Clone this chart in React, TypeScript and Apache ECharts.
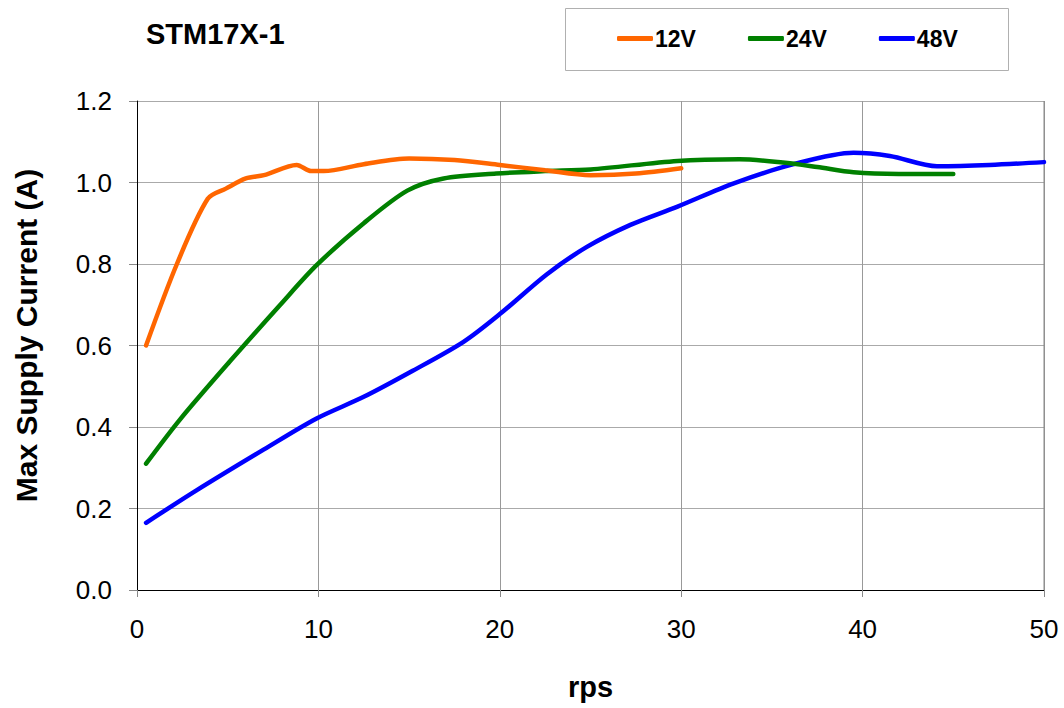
import React, { useEffect, useRef } from "react";
import * as echarts from "echarts";

const rps12 = [0.5, 2.2, 3.9, 4.9, 6, 7, 8.8, 9.6, 10.3, 12.5, 15, 17.5, 20, 22.5, 25, 27.5, 30];
const cur12 = [0.6, 0.8, 0.96, 0.985, 1.01, 1.018, 1.043, 1.028, 1.028, 1.045, 1.059, 1.055, 1.043, 1.03, 1.018, 1.022, 1.035];

const rps24 = [0.5, 2.4, 5.1, 7.9, 9.9, 12.5, 14.9, 16.9, 19.8, 22.5, 25, 29.8, 33.2, 35.6, 37.5, 39.5, 42, 45];
const cur24 = [0.31, 0.42, 0.56, 0.7, 0.797, 0.9, 0.98, 1.01, 1.022, 1.028, 1.032, 1.053, 1.057, 1.049, 1.038, 1.025, 1.021, 1.021];

const rps48 = [0.5, 3.3, 7, 9.9, 12.5, 15.2, 18, 20, 22.6, 24.8, 27.2, 29.8, 32.9, 36.2, 39.5, 41.5, 44.1, 47, 50];
const cur48 = [0.165, 0.245, 0.345, 0.421, 0.474, 0.538, 0.609, 0.677, 0.775, 0.842, 0.896, 0.941, 0.998, 1.045, 1.073, 1.065, 1.04, 1.043, 1.05];

const seriesNames = ["12V", "24V", "48V"];
const seriesColors = ["#FF6600", "#008000", "#0000FF"];
const xTicks = { min: 0, max: 50, interval: 10 };
const yTicks = { min: 0, max: 1.2, interval: 0.2 };

const FONT = "'Liberation Sans', Arial, sans-serif";

export default function App() {
  const ref = useRef<HTMLDivElement>(null);
  useEffect(() => {
    document.body.style.margin = "0";
    const chart = echarts.init(ref.current!, null, { renderer: "svg" });
    const pairs = [
      rps12.map((x, i) => [x, cur12[i]]),
      rps24.map((x, i) => [x, cur24[i]]),
      rps48.map((x, i) => [x, cur48[i]]),
    ];
    chart.setOption({
      animation: false,
      backgroundColor: "#ffffff",
      textStyle: { fontFamily: FONT },
      grid: { left: 137, right: 20, top: 101, bottom: 118, containLabel: false },
      title: {
        text: "STM17X-1",
        left: 146,
        top: 19,
        padding: 0,
        textStyle: { fontFamily: FONT, fontSize: 29, fontWeight: "bold", color: "#000" },
      },
      graphic: [
        {
          type: "rect",
          shape: { x: 565.5, y: 8.5, width: 443, height: 62 },
          style: { fill: "#fff", stroke: "#b0b0b0", lineWidth: 1 },
          z: 0,
        },
        {
          type: "line",
          shape: { x1: 1044, y1: 101, x2: 1044, y2: 590 },
          style: { stroke: "#888", lineWidth: 1 },
          z: 1,
        },
      ],
      legend: {
        left: 617,
        top: 27,
        padding: 0,
        itemWidth: 36,
        itemHeight: 5,
        itemGap: 52,
        icon: "roundRect",
        data: seriesNames,
        textStyle: { fontFamily: FONT, fontSize: 23, fontWeight: "bold", color: "#000", padding: [0, 0, 0, -3] },
        z: 5,
      },
      xAxis: {
        type: "value",
        min: xTicks.min,
        max: xTicks.max,
        interval: xTicks.interval,
        name: "rps",
        nameLocation: "middle",
        nameGap: 82,
        nameTextStyle: { fontFamily: FONT, fontSize: 29, fontWeight: "bold", color: "#000" },
        axisLine: { show: true, onZero: false, lineStyle: { color: "#000", width: 1 } },
        axisTick: { show: true, inside: false, length: 7, lineStyle: { color: "#888" } },
        axisLabel: { fontFamily: FONT, fontSize: 26, color: "#000", margin: 26 },
        splitLine: { show: true, lineStyle: { color: "#999", width: 1 } },
      },
      yAxis: {
        type: "value",
        min: yTicks.min,
        max: yTicks.max,
        interval: yTicks.interval,
        name: "Max Supply Current (A)",
        nameLocation: "middle",
        nameGap: 96,
        nameTextStyle: {
          fontFamily: FONT,
          fontSize: 30,
          fontWeight: "bold",
          color: "#000",
          padding: [0, 0, 0, 20],
        },
        axisLine: { show: true, lineStyle: { color: "#000", width: 1 } },
        axisTick: { show: true, inside: false, length: 8, lineStyle: { color: "#888" } },
        axisLabel: {
          fontFamily: FONT,
          fontSize: 26,
          color: "#000",
          margin: 25,
          formatter: (v: number) => v.toFixed(1),
        },
        splitLine: { show: true, lineStyle: { color: "#aaa", width: 1 } },
      },
      series: seriesNames.map((name, i) => ({
        name,
        type: "line",
        data: pairs[i],
        smooth: 0.3,
        showSymbol: false,
        symbol: "none",
        color: seriesColors[i],
        lineStyle: { color: seriesColors[i], width: 4.5, cap: "round" },
        z: 3 + (2 - i),
      })),
    });
    return () => chart.dispose();
  }, []);
  return <div ref={ref} style={{ width: 1064, height: 708 }} />;
}
